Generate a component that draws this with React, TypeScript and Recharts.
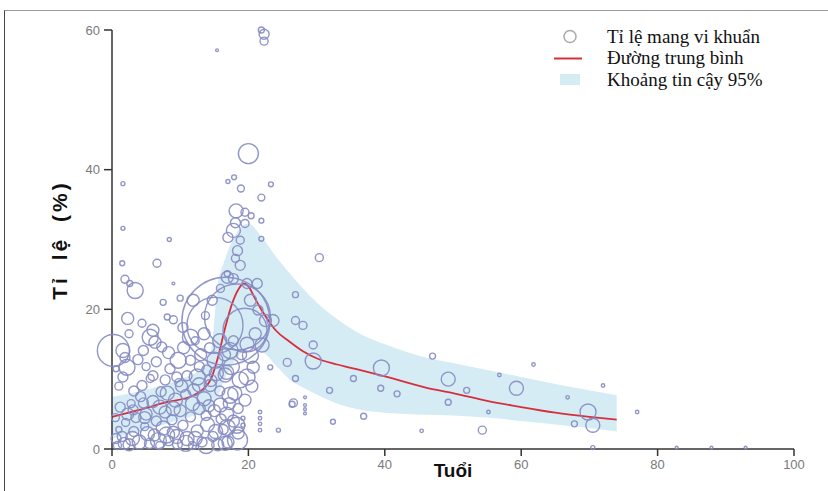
import React from 'react';
import { ComposedChart, XAxis, YAxis, ZAxis, Scatter, Line, Area } from 'recharts';

const ageTicks = [0, 20, 40, 60, 80, 100];
const rateTicks = [0, 20, 40, 60];

const meanAges = [0, 4, 8, 12, 13.5, 14.5, 15.5, 16.5, 17.5, 18.5, 19.3, 20, 21, 22, 23, 24, 26, 28, 30, 33, 36, 40, 46, 50, 55, 60, 65, 70, 74];
const meanValues = [4.6, 5.6, 6.7, 7.7, 8.7, 10.0, 13.0, 17.0, 20.5, 22.8, 23.7, 23.3, 21.5, 19.8, 18.3, 17.0, 15.4, 14.0, 13.0, 12.1, 11.4, 10.4, 8.8, 8.0, 6.9, 6.0, 5.2, 4.6, 4.2];

const bandAges = [0, 5, 10, 13, 14.5, 15.5, 16.5, 18, 20, 22, 24, 26, 28, 30, 33, 36, 40, 46, 50, 55, 60, 65, 70, 74];
const bandLow = [1.5, 2.8, 4.2, 5.2, 6.0, 7.5, 10.0, 12.5, 14.5, 14.0, 12.0, 10.0, 8.8, 7.8, 6.5, 5.7, 5.2, 4.9, 4.8, 4.5, 4.0, 3.5, 3.0, 2.5];
const bandHigh = [7.5, 8.5, 10.0, 11.5, 14.0, 23.5, 27.0, 30.5, 32.3, 30.3, 27.6, 25.2, 23.0, 21.0, 18.6, 16.7, 15.0, 13.1, 12.3, 11.3, 10.3, 9.3, 8.4, 7.7];

// [age, carriage rate %, sample size]
const studiesTop: number[][] = [
  [21.9, 60, 9], [22.3, 59.4, 25], [22.3, 58.4, 16], [15.4, 57.1, 2], [20.0, 42.3, 100],
  [17.0, 38.3, 4], [17.9, 38.9, 6], [18.9, 37.3, 12], [21.9, 36.0, 12], [23.3, 37.9, 6],
  [18.2, 34.1, 49], [19.5, 33.9, 16], [20.4, 33.4, 9], [18.1, 32.4, 25], [19.5, 32.3, 16],
  [21.9, 32.7, 6], [17.8, 31.3, 49], [17.0, 30.3, 25], [18.8, 29.9, 16], [21.9, 30.1, 6],
  [18.4, 28.4, 25], [18.1, 27.3, 16], [17.8, 24.4, 25], [16.9, 25.1, 9], [19.8, 23.7, 25],
  [15.9, 23.0, 16], [21.3, 23.7, 25],
];

const studiesChildren: number[][] = [
  [1.6, 38.0, 4], [1.6, 31.6, 4], [8.4, 30.0, 4], [1.5, 26.6, 6], [6.6, 26.6, 16],
  [1.9, 24.3, 16], [2.6, 23.7, 9], [3.4, 22.7, 64], [9.0, 23.7, 2], [2.3, 18.7, 36],
  [4.4, 18.0, 16], [6.0, 17.0, 36], [8.1, 18.9, 9], [10.0, 21.6, 9], [11.9, 21.3, 36],
  [0.2, 14.1, 256], [1.6, 14.1, 49], [1.9, 13.1, 25], [2.2, 11.7, 64], [1.6, 10.3, 25],
  [5.6, 16.0, 64], [6.3, 15.3, 36], [7.3, 14.6, 25], [4.6, 14.1, 25], [10.4, 17.4, 25],
  [11.5, 16.0, 64], [9.7, 12.7, 64], [9.5, 10.3, 25], [11.5, 12.7, 25], [4.4, 9.1, 25],
  [5.6, 10.1, 16], [7.8, 9.9, 25], [8.1, 8.0, 49], [12.5, 10.3, 64], [13.9, 11.3, 25],
  [3.1, 5.6, 25], [4.6, 6.6, 25], [1.2, 6.0, 25],
  [0.8, 0.5, 16], [1.5, 1.8, 25], [2.5, 0.6, 36], [3.2, 2.5, 25], [4.0, 1.0, 49],
  [4.8, 3.2, 16], [5.5, 0.8, 25], [6.2, 2.0, 36], [7.0, 0.5, 16], [7.5, 3.0, 49],
  [8.3, 1.2, 25], [9.0, 2.4, 36], [9.6, 0.7, 25], [10.4, 3.4, 25], [11.0, 1.5, 49],
  [11.8, 0.5, 16], [12.5, 2.6, 36], [13.2, 1.0, 25], [14.0, 3.5, 49], [14.8, 1.8, 25],
  [15.5, 0.6, 36], [16.3, 2.8, 25], [17.0, 1.0, 36], [2.0, 3.8, 16], [3.5, 4.5, 25],
  [5.0, 5.0, 36], [6.5, 4.0, 25], [7.8, 5.3, 36], [8.8, 4.2, 25], [10.0, 5.5, 36],
  [11.5, 4.6, 25], [12.8, 5.8, 36], [13.8, 4.8, 25], [15.0, 5.5, 36], [16.0, 4.3, 25],
  [1.0, 2.8, 9], [0.5, 4.5, 16], [2.8, 6.5, 16], [4.2, 7.5, 25], [6.0, 6.8, 36],
  [7.2, 8.2, 25], [9.3, 7.0, 49], [10.8, 7.8, 25], [12.0, 8.5, 36], [13.5, 7.2, 49],
  [14.5, 9.8, 36], [15.8, 8.3, 25], [17.2, 6.5, 36], [16.8, 11.0, 49], [11.0, 10.5, 25],
  [9.8, 9.5, 16], [8.5, 11.5, 25], [13.0, 13.5, 36], [14.3, 14.5, 25], [12.2, 15.5, 16],
  [10.5, 14.5, 36], [6.5, 12.5, 25], [5.0, 11.8, 16], [3.8, 12.8, 25], [1.0, 9.0, 16],
  [0.6, 11.5, 9], [17.8, 4.0, 36], [18.5, 5.8, 25], [2.5, 16.5, 16], [9.0, 18.5, 16],
  [7.5, 21.0, 9],
];

const studiesDense: number[][] = [
  [1.8, 0.8, 36], [3.0, 1.5, 49], [5.2, 2.2, 49], [6.8, 1.2, 64], [8.0, 2.0, 64],
  [9.5, 1.8, 49], [10.8, 0.8, 64], [12.2, 1.5, 49], [13.8, 0.5, 64], [15.2, 2.5, 49],
  [16.6, 0.8, 49], [0.6, 1.5, 25], [2.3, 5.0, 36], [4.8, 4.5, 36], [7.0, 6.0, 49],
  [9.0, 5.8, 49], [11.8, 6.5, 49], [14.2, 6.2, 36], [16.8, 5.0, 49], [18.5, 2.3, 36],
  [10.2, 9.0, 36], [12.8, 9.2, 49], [15.3, 10.8, 49], [18.0, 8.0, 49], [17.5, 11.8, 64],
  [19.8, 15.0, 49], [21.0, 16.5, 36], [15.8, 15.5, 49], [13.5, 16.5, 36], [20.5, 9.0, 36],
  [8.3, 13.8, 36], [6.0, 10.5, 25], [3.2, 8.3, 25],
];

const studiesPeak: number[][] = [
  [16.7, 18.3, 1936], [18.4, 18.9, 1089], [15.1, 17.7, 784], [19.5, 17.0, 484],
  [16.9, 24.6, 36], [18.8, 26.3, 25], [14.7, 21.3, 25], [13.7, 19.1, 16], [20.3, 21.3, 36],
  [21.4, 19.9, 25], [22.5, 18.4, 36], [22.0, 14.9, 49], [20.3, 13.4, 64], [17.3, 14.1, 64],
  [15.1, 12.7, 64], [16.6, 10.6, 49], [18.8, 9.9, 64], [20.7, 11.7, 36], [19.8, 10.3, 64],
  [14.4, 9.1, 36], [17.3, 7.7, 64], [19.5, 7.0, 36], [15.9, 6.3, 49], [16.5, 13.5, 36],
  [17.8, 15.5, 25], [19.0, 13.5, 25], [12.8, 11.8, 25],
  [16.9, 3.1, 64], [18.4, 1.3, 100], [18.3, 3.4, 64],
  [21.7, 5.3, 3], [21.7, 4.4, 3], [21.7, 3.6, 3], [21.7, 2.7, 3], [19.2, 4.4, 4], [19.2, 3.4, 4],
];

const studiesAdults: number[][] = [
  [23.2, 11.7, 6], [25.7, 12.4, 16], [26.9, 10.1, 9], [26.6, 6.6, 16], [26.9, 18.4, 16],
  [23.6, 18.4, 36], [24.4, 2.7, 4], [30.4, 27.4, 16], [26.9, 22.1, 9], [28.0, 17.7, 16],
  [29.5, 14.9, 16], [29.5, 12.6, 64], [26.4, 6.4, 9], [28.3, 7.4, 2], [28.3, 6.3, 2],
  [28.3, 5.7, 2], [28.3, 5.1, 2], [31.9, 8.4, 9], [32.4, 3.9, 6], [35.4, 10.1, 9],
  [36.9, 4.7, 9], [39.5, 11.6, 64], [39.4, 8.7, 9], [41.8, 7.9, 9], [45.4, 2.6, 3],
  [47.0, 13.3, 9], [49.3, 10.0, 49], [52.0, 8.4, 9], [49.3, 6.7, 9], [54.3, 2.7, 16],
  [61.8, 12.1, 3], [56.8, 10.6, 3], [59.3, 8.7, 49], [66.8, 7.4, 3], [72.0, 9.1, 3],
  [69.8, 5.3, 64], [70.5, 3.4, 49], [67.8, 3.6, 9], [77.0, 5.3, 3], [55.2, 5.3, 3],
  [70.5, 0.2, 4], [82.8, 0.2, 2], [87.9, 0.2, 2], [92.9, 0.2, 2],
];

const meanData = meanAges.map((age, i) => ({ age, mean: meanValues[i] }));
const bandData = bandAges.map((age, i) => ({ age, band: [bandLow[i], bandHigh[i]] }));
const bubbleData = [...studiesTop, ...studiesChildren, ...studiesDense, ...studiesPeak, ...studiesAdults].map(
  ([age, rate, n]) => ({ age, rate, n })
);

const BUBBLE = '#858bc2';
const RED = '#d62e3d';
const BAND = '#d6ecf5';

const Bubble = (props: any) => {
  const { cx, cy, width } = props;
  if (cx == null || cy == null) return null;
  const r = Math.max((width || 2) / 2, 1);
  return <circle cx={cx} cy={cy} r={r} fill="none" stroke={BUBBLE} strokeWidth={1.4} strokeOpacity={0.9} />;
};

const legendItems = ['Tỉ lệ mang vi khuẩn', 'Đường trung bình', 'Khoảng tin cậy 95%'];

const LegendBox = () => (
  <div
    style={{
      position: 'absolute', left: 550, top: 26,
      fontFamily: '"Liberation Serif", "Times New Roman", serif', fontSize: 19, color: '#111',
    }}
  >
    {legendItems.map((label, i) => (
      <div key={label} style={{ display: 'flex', alignItems: 'center', height: 21.5 }}>
        <svg width={57} height={21}>
          {i === 0 && <circle cx={20} cy={10.5} r={6} fill="none" stroke="#aaa" strokeWidth={1.5} />}
          {i === 1 && <line x1={4} x2={32} y1={10.5} y2={10.5} stroke={RED} strokeWidth={2} />}
          {i === 2 && <rect x={10} y={5} width={20} height={11} fill={BAND} />}
        </svg>
        <span style={{ whiteSpace: 'nowrap' }}>{label}</span>
      </div>
    ))}
  </div>
);

export default function App() {
  return (
    <div style={{ position: 'absolute', left: 0, top: 0, width: 828, height: 491, background: '#fff', overflow: 'hidden' }}>
      <div style={{ position: 'absolute', left: 4, top: 10, width: 900, height: 600, borderLeft: '1px solid #444', borderTop: '1px solid #999' }} />
      <ComposedChart width={828} height={491} margin={{ top: 30, right: 34, bottom: 12, left: 62 }}>
        <XAxis
          type="number"
          dataKey="age"
          domain={[0, 100]}
          ticks={ageTicks}
          allowDuplicatedCategory={false}
          height={30}
          tickSize={7}
          tickMargin={4}
          stroke="#333"
          strokeWidth={1.5}
          tick={{ fill: '#7a7a7a', fontSize: 13, fontFamily: '"Liberation Sans", Arial, sans-serif' }}
        />
        <YAxis
          type="number"
          dataKey="rate"
          domain={[0, 60]}
          ticks={rateTicks}
          width={50}
          tickSize={8}
          tickMargin={4}
          stroke="#333"
          strokeWidth={1.5}
          tick={{ fill: '#7a7a7a', fontSize: 13, fontFamily: '"Liberation Sans", Arial, sans-serif' }}
        />
        <ZAxis type="number" dataKey="n" domain={[0, 2000]} range={[0, 2000 * Math.PI]} />
        <Area data={bandData} dataKey="band" type="monotone" stroke="none" fill={BAND} fillOpacity={1} isAnimationActive={false} />
        <Scatter data={bubbleData} dataKey="rate" shape={Bubble} isAnimationActive={false} />
        <Line data={meanData} dataKey="mean" type="monotone" stroke={RED} strokeWidth={1.8} dot={false} isAnimationActive={false} />
      </ComposedChart>
      <LegendBox />
      <div
        style={{
          position: 'absolute', left: 60, top: 240, transform: 'translate(-50%, -50%) rotate(-90deg)',
          fontFamily: '"Liberation Sans", Arial, sans-serif', fontWeight: 'bold', fontSize: 21,
          letterSpacing: 3, wordSpacing: 6, whiteSpace: 'nowrap', color: '#111',
        }}
      >
        Tỉ lệ (%)
      </div>
      <div
        style={{
          position: 'absolute', left: 453, top: 471, transform: 'translate(-50%, -50%)',
          fontFamily: '"Liberation Sans", Arial, sans-serif', fontWeight: 'bold', fontSize: 19,
          whiteSpace: 'nowrap', color: '#111',
        }}
      >
        Tuổi
      </div>
    </div>
  );
}
